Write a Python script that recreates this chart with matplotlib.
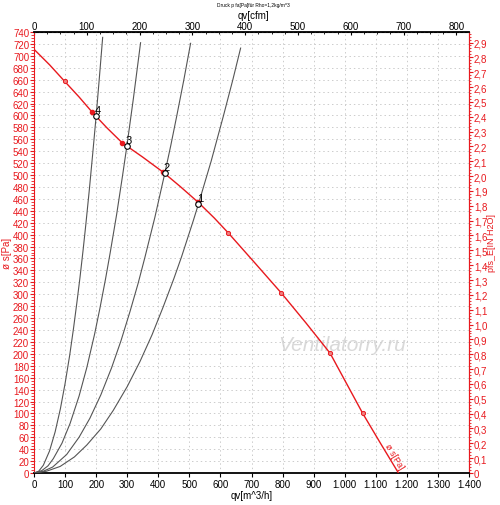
import matplotlib
matplotlib.use("Agg")
import matplotlib.pyplot as plt
from matplotlib.ticker import MultipleLocator, FixedLocator, FuncFormatter

plt.rcParams["font.family"] = ["Liberation Sans", "DejaVu Sans"]

PA_PER_INH2O = 249.09
M3H_PER_CFM = 1.699
RED = "#e8191e"

# Ventilatorkennlinie p_s(qv)
fan_q = [0, 50, 99, 145, 188, 235, 284, 350, 415, 470, 529, 580, 625, 710, 796, 875, 953, 1005, 1058, 1115, 1173]
fan_p = [711, 685, 657, 631, 605, 579, 554, 530, 505, 481, 454, 428, 403, 353, 302, 252, 201, 151, 100, 50, 0]
marker_q = [99, 625, 796, 953, 1058]
marker_p = [657, 403, 302, 201, 100]

# Anlagenkennlinien 1..4
sys1_q = [0, 40, 84, 130, 170, 215, 255, 300, 341, 380, 416, 450, 475, 513, 529, 570, 609, 640, 665]
sys1_p = [0, 3, 11, 27, 47, 74, 105, 145, 187, 232, 279, 326, 363, 424, 451, 523, 598, 660, 713]
sys2_q = [0, 30, 60, 105, 145, 180, 215, 250, 280, 309, 335, 357, 389, 421, 440, 459, 482, 504]
sys2_p = [0, 3, 10, 31, 60, 92, 131, 177, 222, 271, 318, 362, 429, 503, 549, 598, 659, 721]
sys3_q = [0, 25, 45, 62, 90, 116, 145, 170, 195, 212, 230, 245, 266, 285, 299, 320, 343]
sys3_p = [0, 4, 12, 24, 50, 83, 129, 177, 233, 276, 325, 369, 434, 499, 549, 629, 722]
sys4_q = [0, 15, 30, 50, 68, 85, 100, 115, 127, 138, 148, 158, 167, 178, 189, 200, 210, 221]
sys4_p = [0, 3, 13, 37, 69, 108, 150, 198, 242, 286, 328, 374, 418, 475, 536, 599, 661, 731]

# Betriebspunkte
op_labels = ["1", "2", "3", "4"]
op_q = [529, 421, 299, 200]
op_p = [451, 503, 549, 599]
op_red_q = [527, 415, 284, 188]
op_red_p = [454, 505, 554, 605]

cfm_ticks = [0, 100, 200, 300, 400, 500, 600, 700, 800]

fig = plt.figure(figsize=(5.0, 5.06), dpi=100)
ax = fig.add_axes([0.068, 0.0632, 0.87, 0.8716])
ax.set_xlim(0, 1400)
ax.set_ylim(0, 740)

for q, p in [(sys1_q, sys1_p), (sys2_q, sys2_p), (sys3_q, sys3_p), (sys4_q, sys4_p)]:
    ax.plot(q, p, color="#555555", lw=0.8, zorder=3)

ax.plot(fan_q, fan_p, color=RED, lw=1.0, zorder=4)
ax.plot(marker_q, marker_p, "o", ms=3, mfc="#f08080", mec=RED, mew=0.7, zorder=5)
ax.plot(op_red_q, op_red_p, "o", ms=3, mfc=RED, mec=RED, zorder=5)
ax.plot(op_q, op_p, "o", ms=4, mfc="white", mec="black", mew=0.8, zorder=6)
for lab, q, p in zip(op_labels, op_q, op_p):
    ax.text(q - 4, p + 5, lab, fontsize=8, color="black", zorder=7)

ax.text(1124, 46, "ø s[Pa]", color=RED, fontsize=6.5, rotation=-59,
        rotation_mode="anchor", ha="left", va="bottom", zorder=7)

ax.text(991, 216, "Ventilatorry.ru", fontsize=15, style="italic",
        color="#d9d9d9", ha="center", va="center", zorder=1)

# Gitter
ax.xaxis.set_major_locator(MultipleLocator(100))
ax.yaxis.set_major_locator(MultipleLocator(20))
ax.yaxis.set_minor_locator(MultipleLocator(5))
ax.grid(True, which="major", color="#cccccc", ls=(0, (1.5, 3)), lw=0.7)

def thousands(v, pos):
    return f"{int(v):,}".replace(",", ".")

ax.xaxis.set_major_formatter(FuncFormatter(thousands))
ax.tick_params(axis="x", labelsize=7, length=3, pad=1)
ax.tick_params(axis="y", colors=RED, labelsize=7, length=3, pad=0.5)
ax.tick_params(axis="y", which="minor", colors=RED, length=2)
ax.set_xlabel("qv[m^3/h]", fontsize=7, labelpad=1)
fig.text(0.015, 0.5, "ø s[Pa]", fontsize=7, color=RED, rotation=90, ha="center", va="center")

ax.spines["left"].set_color(RED)
ax.spines["right"].set_color(RED)
ax.spines["bottom"].set_linewidth(1.3)
ax.spines["top"].set_linewidth(1.3)

# oben: cfm
top = ax.secondary_xaxis("top", functions=(lambda x: x / M3H_PER_CFM, lambda x: x * M3H_PER_CFM))
top.xaxis.set_major_locator(FixedLocator(cfm_ticks))
top.xaxis.set_minor_locator(MultipleLocator(25))
top.tick_params(labelsize=7, length=2.5, pad=1, direction="in")
top.tick_params(which="minor", length=1.5, direction="in")
fig.text(0.506, 0.969, "qv[cfm]", fontsize=7, ha="center", va="center")

# rechts: in H2O
right = ax.secondary_yaxis("right", functions=(lambda p: p / PA_PER_INH2O, lambda v: v * PA_PER_INH2O))
right.yaxis.set_major_locator(MultipleLocator(0.1))
right.yaxis.set_minor_locator(MultipleLocator(0.02))
right.yaxis.set_major_formatter(FuncFormatter(lambda v, pos: f"{v:.1f}".replace(".", ",") if v > 0.01 else "0"))
right.tick_params(colors=RED, labelsize=7, length=3, pad=0.5)
right.tick_params(which="minor", colors=RED, length=1.5)
right.spines["right"].set_color(RED)
fig.text(0.984, 0.52, "pfs_E[IN H2O]", fontsize=6.5, color=RED, rotation=90, ha="center", va="center")

fig.text(0.506, 0.989, "Druck p fa[Pa]für Rho=1,2kg/m^3", fontsize=3.5, ha="center", va="center")

fig.savefig("out.png", dpi=100)
